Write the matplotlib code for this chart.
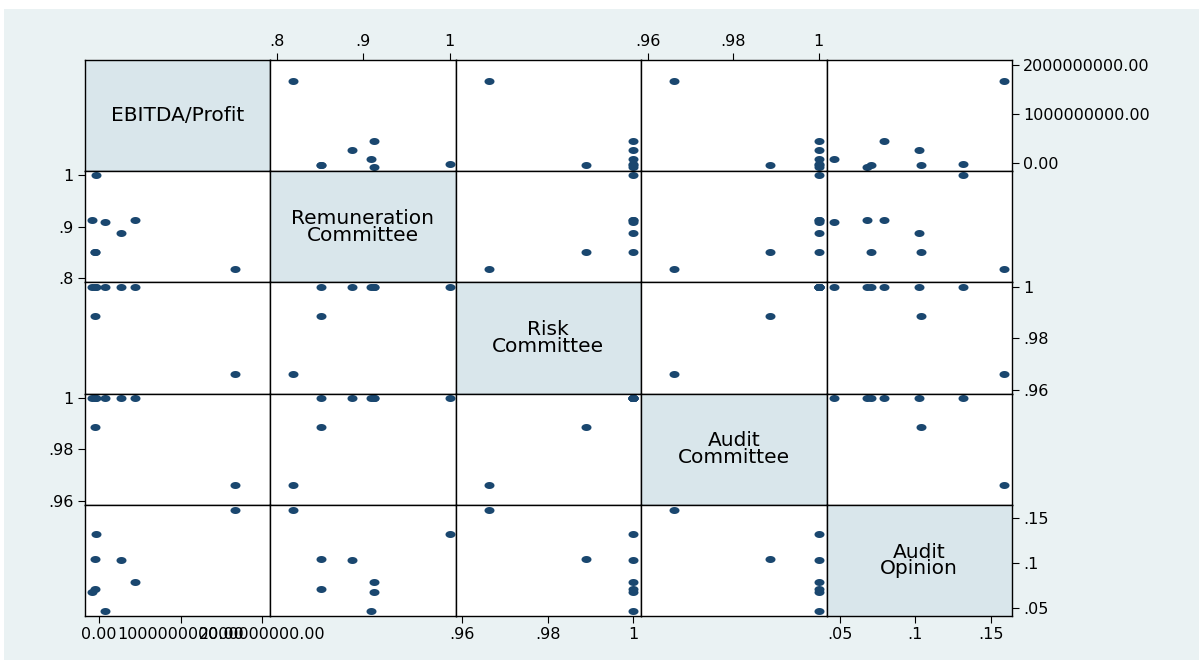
import numpy as np
import matplotlib
matplotlib.use("Agg")
import matplotlib.pyplot as plt
from matplotlib.path import Path
from matplotlib.patches import Rectangle

# variables of the scatter matrix (8 observations)
labels = ["EBITDA/Profit", "Remuneration\nCommittee", "Risk\nCommittee",
          "Audit\nCommittee", "Audit\nOpinion"]
ebitda = [1.67e9, -0.032e9, -0.053e9, 0.264e9, 0.446e9, -0.053e9, -0.09e9, 0.075e9]
remuneration = [0.818, 1.0, 0.851, 0.887, 0.912, 0.851, 0.912, 0.909]
risk = [0.9663, 1.0, 0.9889, 1.0, 1.0, 1.0, 1.0, 1.0]
audit_committee = [0.9662, 1.0, 0.9886, 1.0, 1.0, 1.0, 1.0, 1.0]
audit_opinion = [0.159, 0.1315, 0.104, 0.1025, 0.079, 0.0705, 0.0675, 0.046]

tick_values = [[0, 1e9, 2e9], [0.8, 0.9, 1], [0.96, 0.98, 1], [0.96, 0.98, 1], [0.05, 0.1, 0.15]]
tick_labels = [["0.00", "1000000000.00", "2000000000.00"], [".8", ".9", "1"],
               [".96", ".98", "1"], [".96", ".98", "1"], [".05", ".1", ".15"]]
limits = [(-0.175e9, 2.096e9), (0.792, 1.007), (0.9585, 1.0018), (0.9584, 1.0018), (0.0409, 0.1643)]

data = [ebitda, remuneration, risk, audit_committee, audit_opinion]

navy = "#1a476f"
outer_bg = "#eaf2f3"
diag_bg = "#d9e6eb"

plt.rcParams["font.family"] = ["DejaVu Sans"]

W, H = 1199, 660
fig = plt.figure(figsize=(W / 100, H / 100), dpi=100, facecolor="white")
fig.patches.append(Rectangle((4 / W, 0), 1, (H - 9) / H, transform=fig.transFigure,
                             facecolor=outer_bg, edgecolor="none", zorder=-10))

# ellipse marker (stata graph is stretched sideways)
t = np.linspace(0, 2 * np.pi, 60)
ellipse = Path(np.column_stack([1.43 * np.cos(t), np.sin(t)]), closed=True)

left, top = 84.7, 60.0
cw, ch = 185.46, 111.2
n = len(data)

for i in range(n):
    for j in range(n):
        x0 = (left + j * cw) / W
        y0 = 1 - (top + (i + 1) * ch) / H
        ax = fig.add_axes([x0, y0, cw / W, ch / H])
        ax.set_xlim(limits[j])
        ax.set_ylim(limits[i])
        for s in ax.spines.values():
            s.set_color("black")
            s.set_linewidth(1.0)

        if i == j:
            ax.set_facecolor(diag_bg)
            ax.text(0.5, 0.5, labels[i], transform=ax.transAxes, ha="center", va="center",
                    fontsize=14.5, linespacing=0.85, color="black")
        else:
            ax.set_facecolor("white")
            ax.plot(data[j], data[i], ls="none", marker=ellipse, ms=7.2,
                    mfc=navy, mec=navy, mew=0, clip_on=False)

        ax.set_xticks(tick_values[j])
        ax.set_xticklabels(tick_labels[j])
        ax.set_yticks(tick_values[i])
        ax.set_yticklabels(tick_labels[i])

        show_top = (i == 0 and j % 2 == 1)
        show_bottom = (i == n - 1 and j % 2 == 0)
        show_left = (j == 0 and i % 2 == 1)
        show_right = (j == n - 1 and i % 2 == 0)
        ax.tick_params(axis="x", top=show_top, labeltop=show_top,
                       bottom=show_bottom, labelbottom=show_bottom,
                       length=5, width=0.8, pad=3, labelsize=11.5, colors="black")
        ax.tick_params(axis="y", left=show_left, labelleft=show_left,
                       right=show_right, labelright=show_right,
                       length=5, width=0.8, pad=3, labelsize=11.5, colors="black")

fig.savefig("out.png", dpi=100, facecolor=fig.get_facecolor())
